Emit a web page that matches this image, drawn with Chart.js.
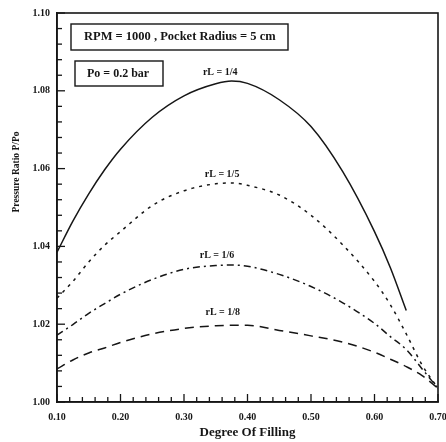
<!DOCTYPE html>
<html>
<head>
<meta charset="utf-8">
<script src="https://cdn.jsdelivr.net/npm/chart.js@4.4.1/dist/chart.umd.min.js"></script>
<style>
  html, body { margin: 0; padding: 0; background: #fff; }
  #wrap { width: 446px; height: 442px; }
</style>
</head>
<body>
<div id="wrap"><canvas id="chart" width="446" height="442"></canvas></div>
<script>
// Degree of filling (x) and pressure ratio P/Po for each rL
const filling = [0.10, 0.125, 0.15, 0.175, 0.20, 0.25, 0.30, 0.35, 0.375, 0.40, 0.45, 0.50, 0.55, 0.60, 0.625, 0.65, 0.675, 0.70];
const ratio14 = [1.0385, 1.0465, 1.0535, 1.0597, 1.065, 1.0732, 1.0787, 1.0818, 1.0825, 1.0819, 1.0777, 1.0708, 1.0592, 1.0438, 1.0345, 1.0235, null, null];
const ratio15 = [1.0267, 1.031, 1.036, 1.0403, 1.0438, 1.0505, 1.0543, 1.0561, 1.0563, 1.0557, 1.0532, 1.048, 1.0404, 1.031, 1.025, 1.0175, 1.0095, 1.0035];
const ratio16 = [1.0172, 1.0199, 1.0228, 1.0253, 1.0277, 1.0315, 1.0341, 1.0351, 1.0352, 1.0349, 1.0328, 1.0297, 1.0255, 1.0202, 1.0168, 1.0135, 1.0085, 1.0035];
const ratio18 = [1.0085, 1.0108, 1.0126, 1.0139, 1.0153, 1.0175, 1.0189, 1.0196, 1.0197, 1.0197, 1.0184, 1.017, 1.0154, 1.0128, 1.011, 1.0091, 1.0068, 1.0035];
const curveNames = ["rL = 1/4", "rL = 1/5", "rL = 1/6", "rL = 1/8"];
const xTickValues = [0.10, 0.20, 0.30, 0.40, 0.50, 0.60, 0.70];
const yTickValues = [1.00, 1.02, 1.04, 1.06, 1.08, 1.10];

// where the curve names sit (data coords)
const nameAt = [[0.357, 1.0848], [0.36, 1.0584], [0.352, 1.0378], [0.361, 1.0229]];

const ink = "#161616";
const serif = "'Liberation Serif', 'DejaVu Serif', serif";

function toPoints(vals) {
  return filling.map((x, i) => ({ x: x, y: vals[i] }));
}

function lineSet(label, vals, dash) {
  return {
    label: label,
    data: toPoints(vals),
    borderColor: ink,
    borderWidth: 1.5,
    borderDash: dash,
    pointRadius: 0,
    fill: false,
    cubicInterpolationMode: "monotone",
    spanGaps: false,
  };
}

// Inward ticks, frame, boxes and labels
const decor = {
  id: "decor",
  afterDraw(chart) {
    const ctx = chart.ctx;
    const a = chart.chartArea;
    const xs = chart.scales.x;
    const ys = chart.scales.y;
    ctx.save();
    ctx.strokeStyle = ink;
    ctx.fillStyle = ink;

    // frame
    ctx.lineWidth = 1.6;
    ctx.strokeRect(a.left, a.top, a.right - a.left, a.bottom - a.top);

    // y ticks every 0.004
    ctx.lineWidth = 1.3;
    for (let k = 0; k <= 25; k++) {
      const py = ys.getPixelForValue(1 + k * 0.004);
      const len = k % 5 === 0 ? 8 : 5;
      ctx.beginPath();
      ctx.moveTo(a.left, py);
      ctx.lineTo(a.left + len, py);
      ctx.stroke();
    }
    // x ticks every 0.02
    for (let k = 0; k <= 30; k++) {
      const px = xs.getPixelForValue(0.1 + k * 0.02);
      const len = k % 5 === 0 ? 8 : 5;
      ctx.beginPath();
      ctx.moveTo(px, a.bottom);
      ctx.lineTo(px, a.bottom - len);
      ctx.stroke();
    }

    // info boxes
    ctx.lineWidth = 1.4;
    ctx.strokeRect(a.left + 14, a.top + 11, 217, 26);
    ctx.strokeRect(a.left + 18, a.top + 48, 88, 25);
    ctx.textBaseline = "middle";
    ctx.textAlign = "left";
    ctx.font = "bold 12.5px " + serif;
    ctx.fillText("RPM = 1000 , Pocket Radius = 5 cm", a.left + 27, a.top + 24);
    ctx.font = "bold 12px " + serif;
    ctx.fillText("Po = 0.2 bar", a.left + 30, a.top + 61);

    // curve names
    ctx.textAlign = "center";
    ctx.font = "bold 10px " + serif;
    curveNames.forEach((n, i) => {
      ctx.fillText(n, xs.getPixelForValue(nameAt[i][0]), ys.getPixelForValue(nameAt[i][1]));
    });

    // y title
    ctx.translate(17, 172);
    ctx.rotate(-Math.PI / 2);
    ctx.font = "bold 9.5px " + serif;
    ctx.fillText("Pressure Ratio P/Po", 0, 0);
    ctx.restore();
  },
};

new Chart(document.getElementById("chart"), {
  type: "line",
  data: {
    datasets: [
      lineSet(curveNames[0], ratio14, []),
      lineSet(curveNames[1], ratio15, [3, 5]),
      lineSet(curveNames[2], ratio16, [7, 4, 2, 4]),
      lineSet(curveNames[3], ratio18, [9, 6]),
    ],
  },
  options: {
    responsive: false,
    animation: false,
    layout: { autoPadding: false, padding: { top: 13, right: 8, left: 0, bottom: 0 } },
    plugins: { legend: { display: false }, tooltip: { enabled: false } },
    scales: {
      x: {
        type: "linear",
        min: 0.1,
        max: 0.7,
        afterFit: s => { s.height = 40; s.paddingLeft = 0; s.paddingRight = 0; },
        afterBuildTicks: s => { s.ticks = xTickValues.map(v => ({ value: v })); },
        grid: { display: false, drawTicks: false },
        border: { display: true, color: ink, width: 1.6 },
        ticks: {
          color: ink,
          padding: 9,
          font: { family: serif, size: 10, weight: "bold" },
          callback: v => v.toFixed(2),
        },
        title: {
          display: true,
          text: "Degree Of Filling",
          color: ink,
          font: { family: serif, size: 13, weight: "bold" },
          padding: { top: 0, bottom: 2 },
        },
      },
      y: {
        min: 1.0,
        max: 1.1,
        afterFit: s => { s.width = 57; s.paddingTop = 0; s.paddingBottom = 0; },
        afterBuildTicks: s => { s.ticks = yTickValues.map(v => ({ value: v })); },
        grid: { display: false, drawTicks: false },
        border: { display: true, color: ink, width: 1.6 },
        ticks: {
          color: ink,
          padding: 7,
          font: { family: serif, size: 10, weight: "bold" },
          callback: v => v.toFixed(2),
        },
      },
    },
  },
  plugins: [decor],
});
</script>
</body>
</html>
